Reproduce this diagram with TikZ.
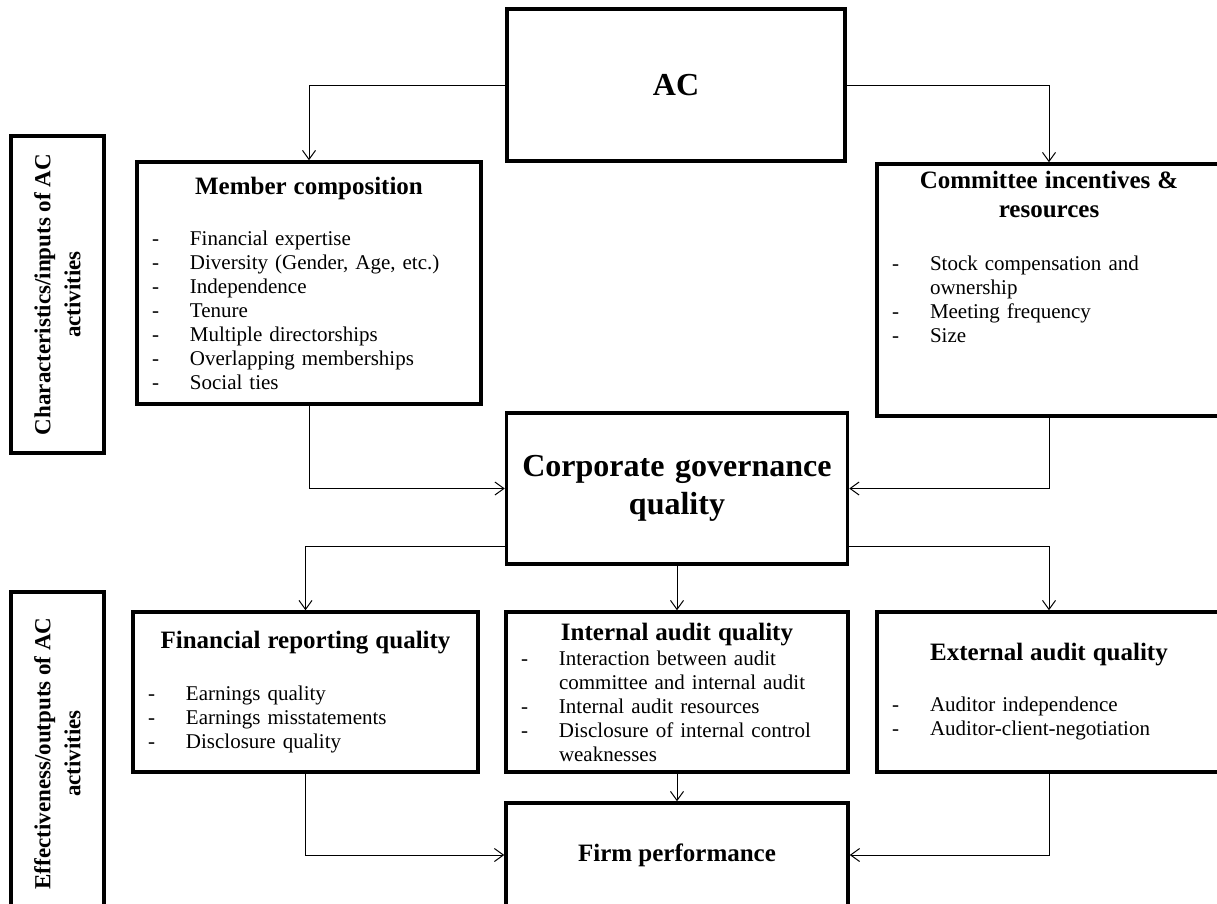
\documentclass[tikz,border=0pt]{standalone}
\usepackage{fontspec}
\setmainfont{Liberation Serif}
\usetikzlibrary{arrows.meta}

\newcommand{\bodyfont}{\fontsize{21}{24}\selectfont}
\newcommand{\headfont}{\fontsize{25}{29}\selectfont\bfseries}
\newcommand{\bigheadfont}{\fontsize{32}{38}\selectfont\bfseries}
\newcommand{\sidefont}{\fontsize{23}{30}\selectfont\bfseries}
\newcommand{\dashitem}[1]{\par\noindent\hangindent=38pt\hangafter=1\makebox[38pt][l]{-}#1}
\hyphenpenalty=10000
\exhyphenpenalty=10000

\begin{document}
\begin{tikzpicture}[x=1pt, y=-1pt]
\tikzset{block/.style = {draw, rectangle, line width=3.5pt, inner xsep=15pt, inner ysep=2pt}}
\tikzset{listblock/.style = {block, align=left, font=\bodyfont}}
\tikzset{sidebox/.style = {block, rotate=90, align=center, font=\sidefont, minimum height=93pt}}
\tikzset{edge/.style = {->, > = {Straight Barb[length=9pt, width=13pt]}, line width=1pt}}

\useasboundingbox (0,0) rectangle (1217,903);

% side labels
\node[sidebox, minimum width=317pt] (inputs) at (57.5,294.5) {Characteristics/inputs of AC\\activities};
\node[sidebox, minimum width=323pt] (outputs) at (57.5,753.5) {Effectiveness/outputs of AC\\activities};

\node[block, font=\bigheadfont, minimum width=338pt, minimum height=152pt] (ac) at (676,85) {AC};

\node[listblock, text width=314pt, minimum height=242pt] (mem) at (309,283) {
  {\centering\headfont Member composition\par}
  \vspace{27pt}
  \dashitem{Financial expertise}
  \dashitem{Diversity (Gender, Age, etc.)}
  \dashitem{Independence}
  \dashitem{Tenure}
  \dashitem{Multiple directorships}
  \dashitem{Overlapping memberships}
  \dashitem{Social ties}\par
};

\node[listblock, text width=314pt, minimum height=252pt] (com) at (1049,290) {
  {\centering\headfont Committee incentives \&\\ resources\par}
  \vspace{29pt}
  \dashitem{Stock compensation and ownership}
  \dashitem{Meeting frequency}
  \dashitem{Size}
  \par\vspace{42pt}\mbox{}
};

\node[block, font=\bigheadfont, align=center, text width=311pt, minimum height=151pt] (corp) at (677,488.5)
  {Corporate governance\\quality};

\node[listblock, text width=315pt, minimum height=160pt] (fin) at (305.5,692) {
  {\centering\headfont Financial reporting quality\par}
  \vspace{28pt}
  \dashitem{Earnings quality}
  \dashitem{Earnings misstatements}
  \dashitem{Disclosure quality}\par
};

\node[listblock, text width=312pt, minimum height=160pt] (int) at (677,692) {
  {\centering\headfont Internal audit quality\par}
  \vspace{1pt}
  \dashitem{Interaction between audit committee and internal audit}
  \dashitem{Internal audit resources}
  \dashitem{Disclosure of internal control weaknesses}\par
};

\node[listblock, text width=314pt, minimum height=160pt] (ext) at (1049,692) {
  {\centering\headfont External audit quality\par}
  \vspace{27pt}
  \dashitem{Auditor independence}
  \dashitem{Auditor-client-negotiation}\par
};

\node[block, font=\headfont, minimum width=342pt, minimum height=104pt] (firm) at (677,855) {Firm performance};

% connectors
\foreach \a/\b in {ac.west/mem.north, ac.east/com.north}
  {\draw[edge] (\a) -| (\b);}
\foreach \a/\b in {mem.south/corp.west, com.south/corp.east, fin.south/firm.west, ext.south/firm.east}
  {\draw[edge] (\a) |- (\b);}
\foreach \a/\b in {corp.south/int.north, int.south/firm.north}
  {\draw[edge] (\a) -- (\b);}
\draw[edge] ([yshift=-58pt]corp.west) -| (fin.north);
\draw[edge] ([yshift=-58pt]corp.east) -| (ext.north);

\end{tikzpicture}
\end{document}
